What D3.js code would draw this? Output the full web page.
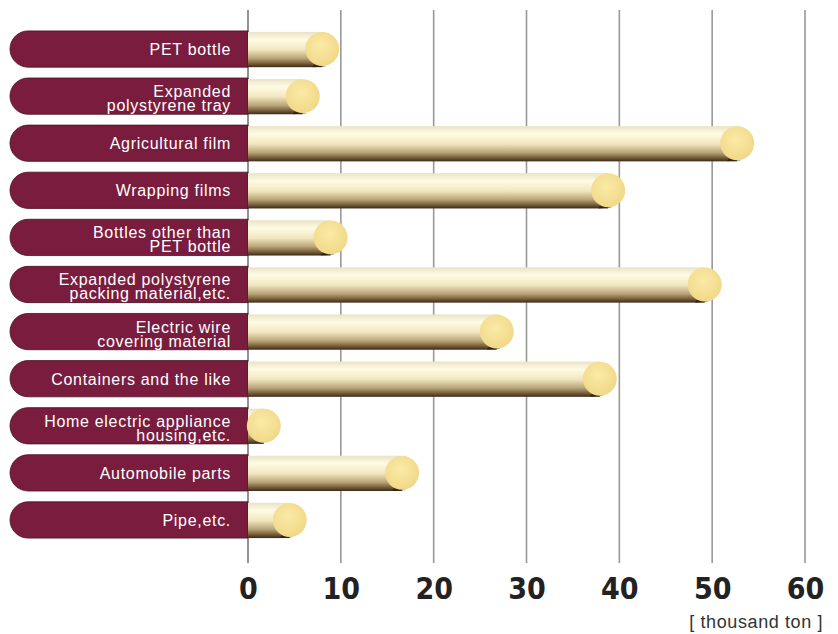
<!DOCTYPE html>
<html>
<head>
<meta charset="utf-8">
<script src="https://cdn.jsdelivr.net/npm/d3@7"></script>
<style>
  body { margin:0; background:#fff; }
  svg { display:block; }
  .lbl { font-family:"Liberation Sans", Arial, sans-serif; font-size:16px; letter-spacing:0.7px; fill:#fff; }
  .tick text { font-family:"DejaVu Sans Condensed","DejaVu Sans",sans-serif; font-weight:bold; font-size:30px; fill:#222; }
</style>
</head>
<body>
<svg id="chart" width="838" height="634"></svg>
<script>
// categorias (con salto de linea donde el original parte el texto)
var categorias = [
  "PET bottle",
  "Expanded\npolystyrene tray",
  "Agricultural film",
  "Wrapping films",
  "Bottles other than\nPET bottle",
  "Expanded polystyrene\npacking material,etc.",
  "Electric wire\ncovering material",
  "Containers and the like",
  "Home electric appliance\nhousing,etc.",
  "Automobile parts",
  "Pipe,etc."
];
// miles de toneladas
var valores = [8.0, 5.9, 52.7, 38.8, 8.9, 49.2, 26.8, 37.9, 1.7, 16.6, 4.5];
var ticks = [0, 10, 20, 30, 40, 50, 60];
var unidad = "[ thousand ton ]";

var data = categorias.map((c,i)=>{ return {cat:c, val:valores[i]}; });

var svg = d3.select("#chart");

var x = d3.scaleLinear().domain([0,60]).range([248,805]);
var y = d3.scaleBand().domain(categorias).range([25.5,543.5])
          .paddingInner(0.23).paddingOuter(0.115);

/* gradientes */
var defs = svg.append("defs");
var g1 = defs.append("linearGradient").attr("id","barra").attr("x1",0).attr("y1",0).attr("x2",0).attr("y2",1);
[[0,"#e9e2c6"],[0.22,"#fffbe4"],[0.5,"#f1e7bf"],[0.75,"#b9a478"],[0.92,"#6b5230"],[1,"#3a2a18"]]
  .forEach(s=>g1.append("stop").attr("offset",s[0]).attr("stop-color",s[1]));
var g2 = defs.append("radialGradient").attr("id","bola").attr("cx",0.45).attr("cy",0.4).attr("r",0.6);
[[0,"#fbeaa6"],[1,"#f0d888"]].forEach(s=>g2.append("stop").attr("offset",s[0]).attr("stop-color",s[1]));

/* lineas verticales */
svg.append("g").selectAll("line")
  .data(ticks)
  .enter().append("line")
    .attr("x1",d=>x(d)).attr("x2",d=>x(d))
    .attr("y1",10).attr("y2",563)
    .attr("stroke",d=>d===0?"#777":"#999")
    .attr("stroke-width",1.6);

/* pastillas de etiqueta */
var filas = svg.append("g").selectAll("g.fila")
  .data(data)
  .enter().append("g").classed("fila",true)
    .attr("transform",d=>"translate(0,"+y(d.cat)+")");

var h = y.bandwidth(), r = h/2, x0 = 10;
filas.append("path")
  .attr("d","M"+(x0+r)+",0 H"+x(0)+" V"+h+" H"+(x0+r)+" A"+r+","+r+" 0 0 1 "+(x0+r)+",0 Z")
  .attr("fill","#7a1c3d")
  .attr("stroke","#4a0f22").attr("stroke-width",0.8);

filas.append("text").classed("lbl",true)
  .attr("text-anchor","end")
  .each(function(d){
    var lineas = d.cat.split("\n");
    var t = d3.select(this);
    var lh = 14;
    var y0 = h/2 + 6 - (lineas.length-1)*5;
    lineas.forEach((l,i)=>{
      t.append("tspan").attr("x",231).attr("y",y0+i*lh).text(l);
    });
  });

/* barras */
filas.append("rect")
  .attr("x",x(0))
  .attr("y",1)
  .attr("width",d=>Math.max(0,x(d.val)-x(0)))
  .attr("height",h-1)
  .attr("fill","url(#barra)");

/* sombra pequeña al final */
filas.append("path")
  .attr("d",d=>"M"+(x(d.val)-8)+","+(h-3)+" L"+(x(d.val)+4)+","+(h-1)+" L"+(x(d.val)-10)+","+h+" Z")
  .attr("fill","#2a1e10")
  .attr("opacity",d=>d.val>3?0.8:0);

/* bolas */
filas.append("circle")
  .attr("cx",d=>x(d.val))
  .attr("cy",h/2)
  .attr("r",17)
  .attr("fill","url(#bola)");

/* eje */
var xAx = d3.axisBottom(x).tickValues(ticks).tickSize(0).tickPadding(0);
svg.append("g").attr("transform","translate(0,578)").call(xAx)
  .call(g=>g.select(".domain").remove())
  .selectAll("text").attr("dy","0.71em");

svg.append("text")
  .attr("x",823).attr("y",628)
  .attr("text-anchor","end")
  .style("font-family","'Liberation Sans', Arial, sans-serif")
  .style("font-size","18px")
  .style("letter-spacing","0.6px")
  .attr("fill","#333")
  .text(unidad);
</script>
</body>
</html>
